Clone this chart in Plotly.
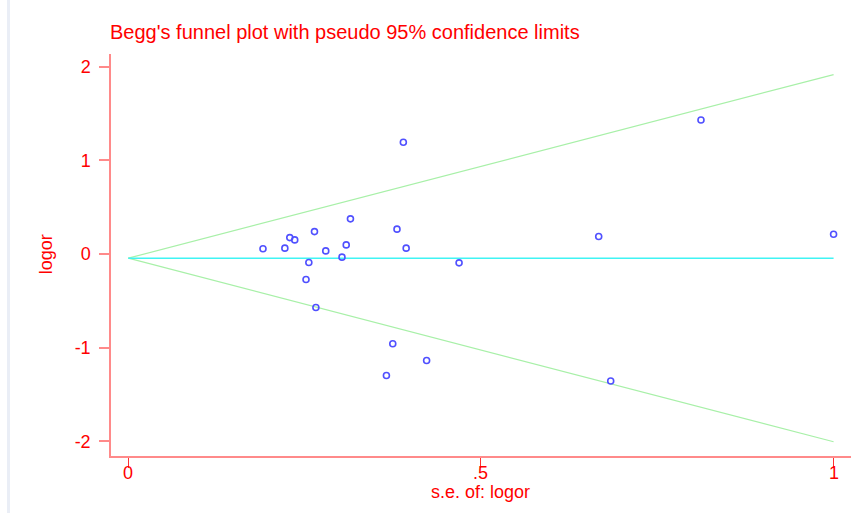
import plotly.graph_objects as go

# Study estimates: standard error of log odds ratio and log odds ratio
se = [0.390, 0.315, 0.381, 0.264, 0.229, 0.236, 0.191, 0.222, 0.280, 0.309,
      0.394, 0.303, 0.256, 0.469, 0.252, 0.266, 0.375, 0.423, 0.366,
      0.812, 0.667, 1.000, 0.684]
logor = [1.195, 0.377, 0.267, 0.241, 0.177, 0.152, 0.057, 0.064, 0.035, 0.099,
         0.064, -0.032, -0.089, -0.093, -0.270, -0.569, -0.957, -1.135, -1.295,
         1.432, 0.188, 0.213, -1.355]

# Fixed-effect pooled estimate and range of the pseudo 95% limits
pooled = -0.043
se_line = [0.0, 1.0]
z = 1.96

x_ticks = [0, 0.5, 1]
x_tick_text = ["0", ".5", "1"]
y_ticks = [-2, -1, 0, 1, 2]
y_tick_text = ["-2", "-1", "0", "1", "2"]

upper = [pooled + z * s for s in se_line]
lower = [pooled - z * s for s in se_line]

red = "#ff0000"
axis_col = "#ff8a8a"
font_family = "Liberation Sans, Arial, sans-serif"

fig = go.Figure()

fig.add_trace(go.Scatter(x=se_line, y=upper, mode="lines",
                         line=dict(color="#a8f0a8", width=1.2), hoverinfo="skip"))
fig.add_trace(go.Scatter(x=se_line, y=lower, mode="lines",
                         line=dict(color="#a8f0a8", width=1.2), hoverinfo="skip"))
fig.add_trace(go.Scatter(x=se_line, y=[pooled, pooled], mode="lines",
                         line=dict(color="#40f4f4", width=1.5), hoverinfo="skip"))
fig.add_trace(go.Scatter(x=se, y=logor, mode="markers",
                         marker=dict(symbol="circle-open", size=6,
                                     color="#5050ff", line=dict(width=1.6))))

# x tick labels sit tight under the tick marks
x_label_annots = [
    dict(text=t, xref="x", x=v, yref="paper", y=0, xanchor="center",
         yanchor="middle", yshift=-17, showarrow=False, borderpad=0,
         font=dict(size=18, color=red))
    for v, t in zip(x_ticks, x_tick_text)
]

fig.update_layout(
    width=865, height=513,
    margin=dict(l=111, r=14, t=54, b=57),
    paper_bgcolor="white", plot_bgcolor="white",
    showlegend=False,
    font=dict(family=font_family, color=red, size=18),
    title=dict(text="Begg's funnel plot with pseudo 95% confidence limits",
               xref="container", yref="container",
               x=110 / 865, xanchor="left", y=1 - 32 / 513, yanchor="middle",
               font=dict(family=font_family, color=red, size=20)),
    annotations=x_label_annots + [
        dict(text="s.e. of: logor", xref="x", x=0.5, yref="paper", y=0,
             xanchor="center", yanchor="middle", yshift=-36, showarrow=False,
             borderpad=0, font=dict(size=18, color=red)),
        dict(text="logor", xref="paper", x=0, yref="y", y=0,
             xanchor="center", yanchor="middle", xshift=-65, textangle=-90,
             showarrow=False, font=dict(size=18, color=red)),
    ],
    shapes=[
        # faint frame edge on the left of the canvas
        dict(type="line", xref="paper", yref="paper",
             x0=(8.5 - 111) / 740, x1=(8.5 - 111) / 740, y0=-57 / 402, y1=1 + 54 / 402,
             line=dict(color="#eaeef6", width=3)),
    ],
)

fig.update_xaxes(
    range=[-0.0245, 1.0247], tickvals=x_ticks, showticklabels=False,
    showgrid=False, zeroline=False,
    showline=True, linecolor=axis_col, linewidth=1.5,
    ticks="outside", ticklen=10, tickcolor="#ff3030", tickwidth=1.2,
)
fig.update_yaxes(
    range=[-2.155, 2.137], tickvals=y_ticks, ticktext=y_tick_text,
    showgrid=False, zeroline=False,
    showline=True, linecolor=axis_col, linewidth=1.5,
    ticks="outside", ticklen=10, tickcolor=axis_col, tickwidth=1.5,
    tickfont=dict(size=18, color=red), ticklabelstandoff=5,
)

fig.write_html("out.html")
